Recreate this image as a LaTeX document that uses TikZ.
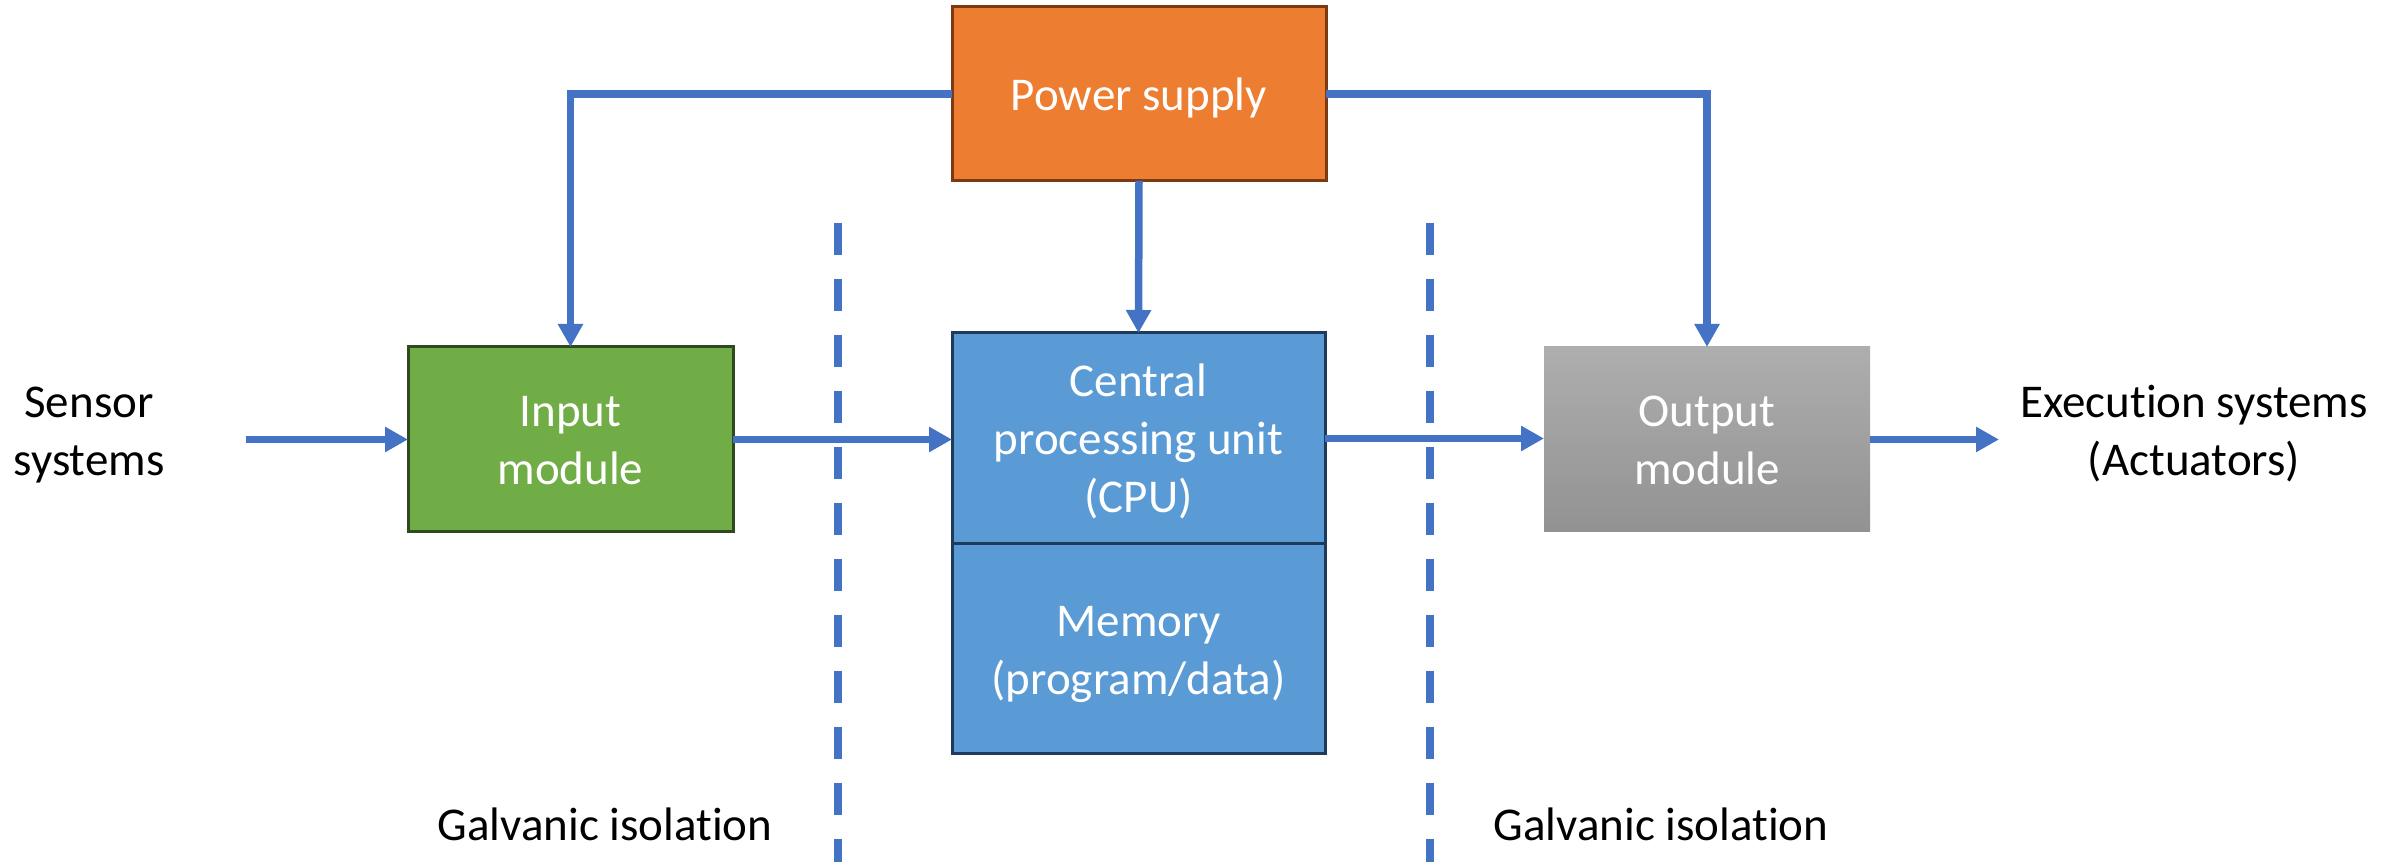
\documentclass[tikz,border=0pt]{standalone}
\usepackage{fontspec}
\setmainfont{Carlito}[Ligatures=NoCommon]
\usetikzlibrary{arrows.meta}
\definecolor{lineblue}{HTML}{4472C4}
\definecolor{orangef}{HTML}{ED7D31}
\definecolor{orangeb}{HTML}{7A3A12}
\definecolor{greenf}{HTML}{70AD47}
\definecolor{greenb}{HTML}{2F4A1E}
\definecolor{bluef}{HTML}{5B9BD5}
\definecolor{blueb}{HTML}{203A5C}
\definecolor{grayt}{HTML}{AEAEAE}
\definecolor{grayb}{HTML}{929292}
\newcommand{\lst}{\rule[-3.2pt]{0pt}{14.5pt}}
\begin{document}
\begin{tikzpicture}[x=0.25pt,y=-0.25pt,
  every node/.style={inner sep=0pt,outer sep=0pt,font=\fontsize{11.75pt}{14.5pt}\selectfont,align=center},
  box/.style={draw, line width=0.75pt, text=white},
  conn/.style={draw=lineblue, line width=1.875pt, -{Triangle[width=6pt,length=5.75pt]}},
  iso/.style={draw=lineblue, line width=2pt, dash pattern=on 8pt off 6pt},
  ]
\useasboundingbox (0,0) rectangle (2392,862);

% isolation lines
\coordinate (d1t) at (838,223);
\coordinate (d1b) at (838,862);
\coordinate (d2t) at (1430,223);
\coordinate (d2b) at (1430,862);
\draw[iso] (d1t) -- (d1b);
\draw[iso] (d2t) -- (d2b);

% boxes
\node[box, fill=orangef, draw=orangeb, minimum width=93.5pt, minimum height=43.5pt] (pw) at (1139,94) {\lst Power supply};
\node[box, fill=greenf, draw=greenb, minimum width=81.25pt, minimum height=46.25pt] (in) at (570.5,439.5) {\lst Input\\\lst module};
\node[box, fill=bluef, draw=blueb, minimum width=93.25pt, minimum height=52.75pt] (cpu) at (1138.5,438.5) {\lst Central\\\lst processing unit\\\lst (CPU)};
\node[box, fill=bluef, draw=blueb, minimum width=93.25pt, minimum height=52.5pt] (mem) at (1138.5,649) {\lst Memory\\\lst (program/data)};
\node[box, draw=none, top color=grayt, bottom color=grayb, minimum width=81.5pt, minimum height=46.25pt] (out) at (1707,439.5) {\lst Output\\\lst module};

% outside texts
\node (sens) at (89,430.5) {\lst Sensor\\\lst systems};
\node (exec) at (2194,430.5) {\lst Execution systems\\\lst (Actuators)};
\node (gal1) at (605,824.5) {\lst Galvanic isolation};
\node (gal2) at (1661,824.5) {\lst Galvanic isolation};

% connectors
\coordinate (sin) at (246,439.5);
\coordinate (eout) at (1999,439.5);
\draw[conn] (pw.west) -| (in.north);
\draw[conn] (pw.east) -| (out.north);
\draw[conn] (pw.south) -- (cpu.north);
\draw[conn] (sin) -- (in.west);
\draw[conn] (in.east) -- (in.east -| cpu.west);
\draw[conn] (cpu.east) -- (cpu.east -| out.west);
\draw[conn] (out.east) -- (eout);
\end{tikzpicture}
\end{document}
